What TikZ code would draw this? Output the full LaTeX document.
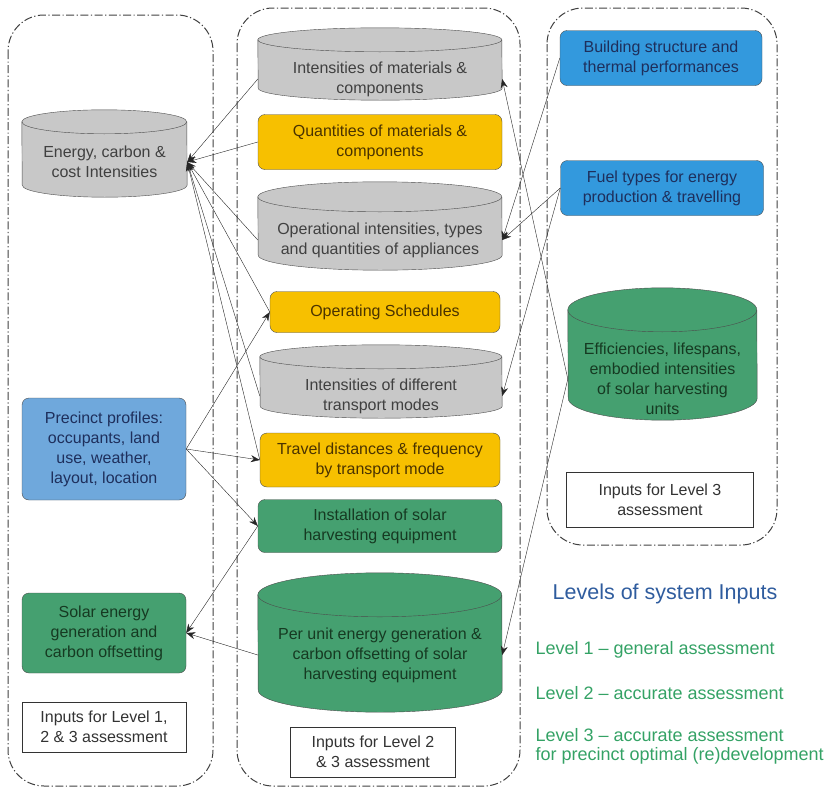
\documentclass[tikz,border=0pt]{standalone}
\usepackage{fontspec}
\setmainfont{Liberation Sans}
\usepackage{tikz}
\usetikzlibrary{arrows.meta,backgrounds}
\definecolor{storegray}{HTML}{C8C8C8}
\definecolor{inyellow}{HTML}{F7C000}
\definecolor{ingreen}{HTML}{45A070}
\definecolor{inblue}{HTML}{6FA8DC}
\definecolor{indeep}{HTML}{3399DD}
\definecolor{titleblue}{HTML}{2F5C9E}
\definecolor{levelgreen}{HTML}{34A265}
\definecolor{navytext}{HTML}{1E2F5C}
\definecolor{browntext}{HTML}{4A3300}
\definecolor{greentext}{HTML}{163A22}
\newcommand{\boxfont}{\fontsize{16}{20}\selectfont}
\newcommand{\levelfont}{\fontsize{18}{19}\selectfont}
\tikzset{
  store/.style   = {rectangle,inner sep=0pt,align=center,font=\boxfont},
  drumline/.style= {draw=black!70,thin},
  inbox/.style   = {rectangle,rounded corners=7pt,draw=black!70,fill=#1,
                    align=center,font=\boxfont},
  tagbox/.style  = {rectangle,draw=black!80,fill=white,align=center,font=\boxfont,
                    text=black!80},
  levelbox/.style= {draw=black!75,line width=1pt,dash pattern=on 8pt off 2.5pt on 1.2pt off 2.5pt,
                    rounded corners=36pt},
  flow/.style    = {-{Stealth[length=9pt,width=7pt]},black!85,thin}
}
% drum behind a store node: node, x radius, y radius, gap above node, fill
\newcommand{\drum}[5]{%
  \draw[drumline,fill=#5] ([yshift=#4-#3]#1.north west)
    arc[start angle=180,end angle=0,x radius=#2,y radius=#3]
    -- ([yshift=#3]#1.south east)
    arc[start angle=0,end angle=-180,x radius=#2,y radius=#3] -- cycle;
  \draw[drumline] ([yshift=#4-#3]#1.north west)
    arc[start angle=180,end angle=360,x radius=#2,y radius=#3];
}
\begin{document}
\begin{tikzpicture}[x=1pt,y=-1pt]
  \useasboundingbox (0,0) rectangle (828,790);
  % level frames
  \draw[levelbox] (8,15) rectangle (213,786);
  \draw[levelbox] (237,8) rectangle (520,786);
  \draw[levelbox] (547,8) rectangle (777,545);

  % level 1 inputs
  \node[store,minimum width=165pt,minimum height=70pt,text=black!75]
    (eci) at (104.5,162) {Energy, carbon \&\\cost Intensities};
  \node[inbox=inblue,minimum width=164pt,minimum height=102pt,text=navytext]
    (prof) at (104,449) {Precinct profiles:\\occupants, land\\use, weather,\\layout, location};
  \node[inbox=ingreen,minimum width=164pt,minimum height=80pt,text=greentext]
    (seg) at (104,633) {Solar energy\\generation and\\carbon offsetting};
  \node[tagbox,minimum width=164pt,minimum height=50pt] (tag1) at (104,727)
    {Inputs for Level 1,\\2 \& 3 assessment};

  % level 2 inputs
  \node[store,minimum width=244pt,minimum height=42pt,text=black!75]
    (imc) at (380,79) {Intensities of materials \&\\components};
  \node[inbox=inyellow,minimum width=244pt,minimum height=55pt,text=browntext]
    (qmc) at (380,142) {Quantities of materials \&\\components};
  \node[store,minimum width=244pt,minimum height=60pt,text=black!75]
    (opi) at (380,240) {Operational intensities, types\\and quantities of appliances};
  \node[inbox=inyellow,minimum width=230pt,minimum height=41pt,text=browntext]
    (ops) at (385,312) {Operating Schedules};
  \node[store,minimum width=242pt,minimum height=44pt,text=black!75]
    (itm) at (381,396) {Intensities of different\\transport modes};
  \node[inbox=inyellow,minimum width=240pt,minimum height=54pt,text=browntext]
    (tdf) at (380,460) {Travel distances \& frequency\\by transport mode};
  \node[inbox=ingreen,minimum width=244pt,minimum height=53pt,text=greentext]
    (ise) at (380,526) {Installation of solar\\harvesting equipment};
  \node[store,minimum width=244pt,minimum height=114pt,text=greentext]
    (pue) at (380,655) {Per unit energy generation \&\\carbon offsetting of solar\\harvesting equipment};
  \node[tagbox,minimum width=165pt,minimum height=50pt] (tag2) at (373,752)
    {Inputs for Level 2\\\& 3 assessment};

  % level 3 inputs
  \node[inbox=indeep,minimum width=202pt,minimum height=55pt,text=navytext]
    (bst) at (661,58) {Building structure and\\thermal performances};
  \node[inbox=indeep,minimum width=203pt,minimum height=55pt,text=navytext]
    (fue) at (662,188) {Fuel types for energy\\production \& travelling};
  \node[store,minimum width=189pt,minimum height=82pt,text=greentext]
    (eff) at (662.5,379) {Efficiencies, lifespans,\\embodied intensities\\of solar harvesting\\units};
  \node[tagbox,minimum width=187pt,minimum height=55pt] (tag3) at (660,500)
    {Inputs for Level 3\\assessment};

  % store drums
  \begin{scope}[on background layer]
    \drum{eci}{82.5pt}{12pt}{17pt}{storegray}
    \drum{imc}{122pt}{12pt}{30pt}{storegray}
    \drum{opi}{122pt}{15pt}{28pt}{storegray}
    \drum{itm}{121pt}{12pt}{29pt}{storegray}
    \drum{pue}{122pt}{22pt}{25pt}{ingreen}
    \drum{eff}{94.5pt}{22pt}{50pt}{ingreen}
  \end{scope}

  % legend
  \node[font=\fontsize{21.5}{26}\selectfont,text=titleblue] (lgt) at (665,594) {Levels of system Inputs};
  \node[anchor=west,font=\levelfont,text=levelgreen] (lv1) at (532,650)
    {Level 1 -- general assessment};
  \node[anchor=west,font=\levelfont,text=levelgreen] (lv2) at (532,693)
    {Level 2 -- accurate assessment};
  \node[anchor=west,font=\levelfont,text=levelgreen,align=left] (lv3) at (532,746)
    {Level 3 -- accurate assessment\\for precinct optimal (re)development};

  % connectors
  \foreach \src in {imc,qmc,opi,ops,itm,tdf}
    \draw[flow] (\src.west) -- (eci.east);
  \foreach \dst in {ops,tdf,ise}
    \draw[flow] (prof.east) -- (\dst.west);
  \draw[flow] (ise.west) -- (seg.east);
  \draw[flow] (pue.west) -- (seg.east);
  \draw[flow] (bst.west) -- (opi.east);
  \draw[flow] (fue.west) -- (opi.east);
  \draw[flow] (fue.west) -- (itm.east);
  \draw[flow] (eff.west) -- (imc.east);
  \draw[flow] (eff.west) -- (pue.east);
\end{tikzpicture}
\end{document}
